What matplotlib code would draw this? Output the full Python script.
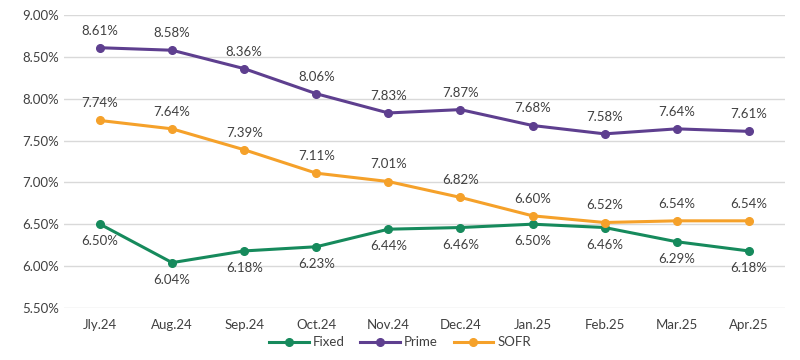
import matplotlib.pyplot as plt
from matplotlib.ticker import FuncFormatter

plt.rcParams['font.family'] = ['Lato', 'DejaVu Sans']

months = ['Jly.24', 'Aug.24', 'Sep.24', 'Oct.24', 'Nov.24', 'Dec.24',
          'Jan.25', 'Feb.25', 'Mar.25', 'Apr.25']
fixed = [6.50, 6.04, 6.18, 6.23, 6.44, 6.46, 6.50, 6.46, 6.29, 6.18]
prime = [8.61, 8.58, 8.36, 8.06, 7.83, 7.87, 7.68, 7.58, 7.64, 7.61]
sofr = [7.74, 7.64, 7.39, 7.11, 7.01, 6.82, 6.60, 6.52, 6.54, 6.54]

series = [
    ('Fixed', fixed, '#168a5c', -1),
    ('Prime', prime, '#5e3f8f', 1),
    ('SOFR', sofr, '#f5a12a', 1),
]

fig = plt.figure(figsize=(8, 3.6), dpi=100)
ax = fig.add_axes([0.08, 0.145, 0.901, 0.813])

x = list(range(len(months)))
for name, vals, color, side in series:
    ax.plot(x, vals, color=color, lw=2.2, marker='o', ms=5.5, label=name, zorder=3)
    for xi, v in zip(x, vals):
        ax.annotate(f'{v:.2f}%', (xi, v), xytext=(0, 8 * side), textcoords='offset points',
                    ha='center', va='bottom' if side > 0 else 'top',
                    fontsize=9.5, color='#404040')

ax.set_xlim(-0.5, len(months) - 0.5)
ax.set_ylim(5.5, 9.0)
ax.set_yticks([5.5, 6.0, 6.5, 7.0, 7.5, 8.0, 8.5, 9.0])
ax.yaxis.set_major_formatter(FuncFormatter(lambda v, p: f'{v:.2f}%'))
ax.set_xticks(x)
ax.set_xticklabels(months)
ax.tick_params(axis='both', length=0, labelsize=9.5, colors='#404040')
ax.tick_params(axis='x', pad=8)
ax.grid(axis='y', color='#d9d9d9', lw=1)
ax.set_axisbelow(True)
for s in ax.spines.values():
    s.set_visible(False)

fig.legend(loc='lower center', bbox_to_anchor=(0.5, 0.0), ncol=3, frameon=False,
           fontsize=9.5, handlelength=3, columnspacing=1.2, handletextpad=0.3,
           labelcolor='#404040')

fig.savefig('out.png', dpi=100)
